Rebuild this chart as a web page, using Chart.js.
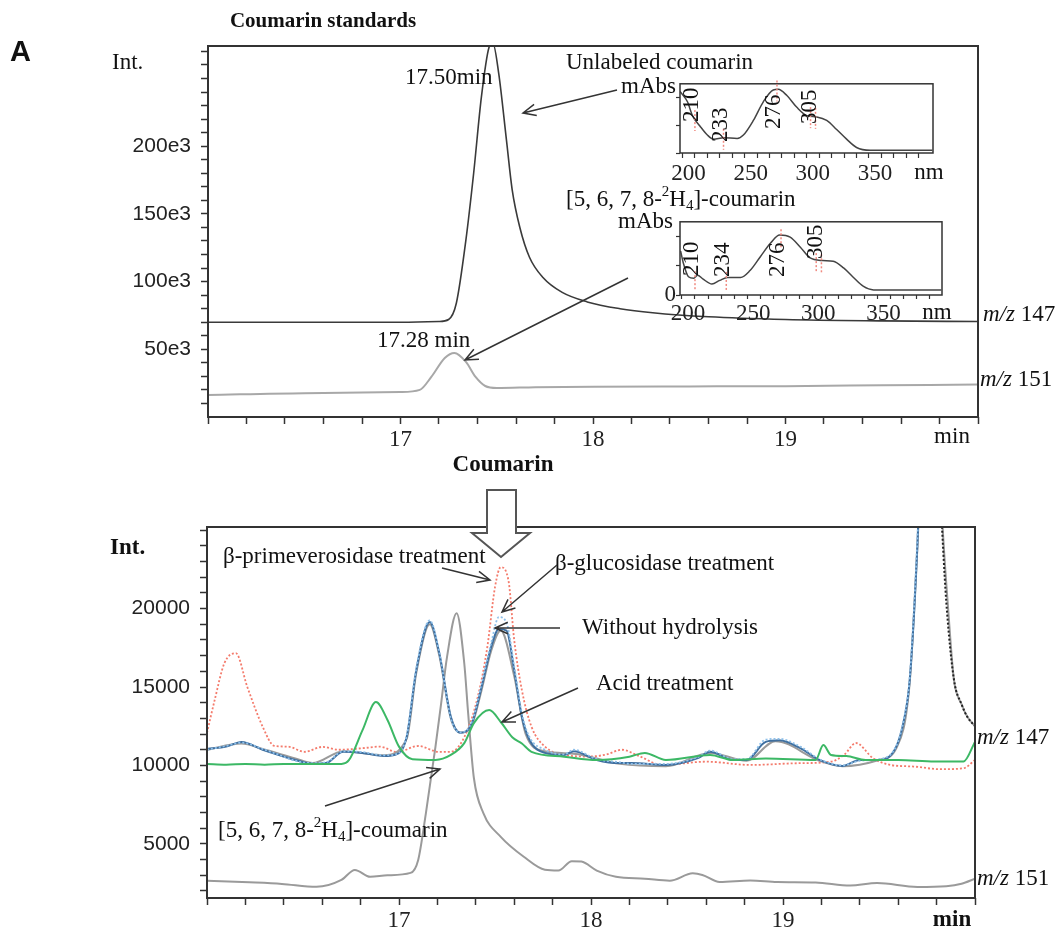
<!DOCTYPE html>
<html>
<head>
<meta charset="utf-8">
<script src="https://cdn.jsdelivr.net/npm/chart.js@4.4.0/dist/chart.umd.min.js"></script>
<style>
  html, body { margin: 0; padding: 0; background: #fff; }
  #wrap { position: relative; width: 1063px; height: 932px; overflow: hidden; background: #fff; }
  canvas { position: absolute; }
</style>
</head>
<body>
<div id="wrap">
  <canvas id="topChart" width="1063" height="460" style="left:0;top:0"></canvas>
  <canvas id="inset1" width="340" height="115" style="left:600px;top:70px"></canvas>
  <canvas id="inset2" width="350" height="115" style="left:600px;top:208px"></canvas>
  <canvas id="bottomChart" width="1063" height="487" style="left:0;top:445px"></canvas>
</div>
<script>
// ---- top panel: coumarin standards (intensity in e3) ----
const topTimes147 = [16.0, 17.0, 17.2, 17.25, 17.29, 17.34, 17.38, 17.42, 17.46, 17.48, 17.51, 17.55, 17.58, 17.62, 17.67, 17.74, 17.84, 17.97, 18.14, 18.31, 18.6, 19.0, 19.5, 20.0];
const topInt147   = [70, 70, 70.5, 72, 84, 131, 180, 236, 273, 276, 254, 205, 168, 140, 118, 103, 92, 85, 80, 77, 74, 72, 71, 70.5];
const topTimes151 = [16.0, 16.5, 17.0, 17.1, 17.16, 17.23, 17.28, 17.34, 17.39, 17.44, 17.5, 17.7, 18.0, 18.5, 19.0, 19.5, 20.0];
const topInt151   = [16.3, 17.6, 18.4, 20, 29.6, 43.6, 47.3, 40.7, 29.6, 22.9, 21.4, 22, 22.4, 22.6, 22.8, 23.4, 24];

// UV spectra insets (relative absorbance)
const nmUnlabeled  = [198, 204, 208, 214, 220, 225, 233, 244, 249, 257, 265, 273, 277, 284, 292, 300, 308, 316, 324, 332, 340, 351, 401];
const absUnlabeled = [89, 74, 54, 39, 26, 20, 22, 21, 26, 47, 74, 91, 92, 83, 66, 54, 52, 47, 34, 20, 8, 4, 4];
const peaksUnlabeled = [210, 233, 276, 305];
const markersUnlabeled = [210, 233, 276, 303, 307];

const nmLabeled  = [199, 201, 205, 209, 212, 216, 223, 229, 235, 245, 252, 260, 268, 275, 283, 291, 298, 308, 316, 324, 331, 339, 347, 399];
const absLabeled = [60, 44, 25, 23, 27, 22, 15, 20, 24, 24, 33, 52, 71, 82, 79, 65, 51, 47, 46, 37, 25, 12, 7, 7];
const peaksLabeled = [210, 234, 276, 305];
const markersLabeled = [210, 234, 276, 303, 307];

// ---- bottom panel: sample traces ----
const btRed = [16.0, 16.04, 16.09, 16.15, 16.21, 16.29, 16.35, 16.42, 16.51, 16.6, 16.69, 16.81, 16.9, 16.99, 17.1, 17.21, 17.27, 17.34, 17.41, 17.46, 17.5, 17.53, 17.57, 17.6, 17.64, 17.69, 17.76, 17.86, 17.99, 18.08, 18.16, 18.25, 18.37, 18.6, 18.83, 19.07, 19.25, 19.32, 19.38, 19.47, 19.56, 19.68, 19.82, 19.94, 20.0];
const bPrimeverosidase = [12080, 14170, 16500, 17160, 15000, 12470, 11250, 11200, 10870, 11180, 11000, 11100, 11200, 10850, 11240, 10860, 10870, 11800, 14350, 17550, 21370, 22640, 21800, 18000, 14800, 12470, 11200, 10670, 10570, 10700, 11000, 10600, 10030, 10240, 10030, 10140, 10240, 10700, 11430, 10450, 10030, 9930, 9760, 9820, 10350];

const btBlue = [16.0, 16.1, 16.18, 16.29, 16.37, 16.46, 16.55, 16.62, 16.71, 16.81, 16.92, 16.98, 17.04, 17.09, 17.16, 17.21, 17.27, 17.32, 17.38, 17.43, 17.48, 17.52, 17.56, 17.6, 17.64, 17.68, 17.76, 17.86, 17.91, 18.03, 18.15, 18.21, 18.39, 18.56, 18.62, 18.74, 18.81, 18.91, 18.98, 19.09, 19.19, 19.31, 19.4, 19.5, 19.59, 19.63, 19.66, 19.7, 19.73];
const bWithout = [11050, 11200, 11500, 11000, 10680, 10350, 10100, 10150, 10870, 10800, 10600, 10680, 11820, 16080, 19150, 17150, 13100, 12080, 12700, 15000, 17550, 18700, 18600, 16080, 13100, 11620, 10800, 10670, 10900, 10350, 10150, 10150, 10030, 10480, 10870, 10350, 10350, 11500, 11600, 11100, 10350, 9970, 10350, 10350, 11200, 12900, 15450, 24000, 34000];
const bGlucosidase = [11000, 11250, 11450, 11050, 10700, 10300, 10150, 10200, 10900, 10850, 10650, 10700, 11900, 16200, 19250, 17200, 13000, 12100, 12800, 15200, 17800, 19460, 19100, 16300, 13300, 11800, 11000, 10700, 11000, 10400, 10200, 10100, 10100, 10550, 10950, 10400, 10400, 11650, 11700, 11200, 10400, 10000, 10300, 10400, 11250, 13000, 15600, 24500, 34000];

const btGray147 = [16.0, 16.18, 16.29, 16.46, 16.55, 16.71, 16.92, 17.04, 17.09, 17.16, 17.21, 17.27, 17.32, 17.38, 17.43, 17.48, 17.53, 17.6, 17.66, 17.76, 17.91, 18.15, 18.39, 18.62, 18.81, 18.96, 19.19, 19.31, 19.5, 19.59, 19.66, 19.7, 19.74, 19.8, 19.83, 19.86, 19.89, 19.93, 19.96, 20.0];
const bGray147 = [11000, 11400, 11050, 10450, 10150, 10900, 10650, 11700, 15900, 19000, 17000, 13000, 12100, 12600, 14800, 17300, 18600, 15700, 12000, 10900, 10750, 10100, 9950, 10800, 10300, 11550, 10300, 9950, 10350, 11100, 15300, 24000, 34000, 34000, 25500, 20000, 15500, 13900, 13100, 12500];

const btBlack = [19.82, 19.85, 19.89, 19.93, 19.96, 20.0];
const bBlack  = [27000, 20500, 15500, 13900, 13100, 12500];

const btGreen = [16.0, 16.1, 16.2, 16.3, 16.4, 16.5, 16.6, 16.7, 16.74, 16.81, 16.88, 16.94, 17.0, 17.07, 17.19, 17.27, 17.34, 17.39, 17.47, 17.53, 17.59, 17.64, 17.69, 17.86, 18.03, 18.2, 18.28, 18.39, 18.62, 18.74, 18.91, 19.17, 19.21, 19.25, 19.33, 19.43, 19.6, 19.79, 19.94, 20.0];
const bAcid = [10100, 10050, 10100, 10050, 10100, 10100, 10100, 10100, 10350, 12250, 14040, 12900, 11200, 10400, 10350, 10670, 11420, 12700, 13530, 12770, 11800, 11400, 10870, 10560, 10350, 10560, 10800, 10350, 10670, 10350, 10450, 10350, 11300, 10670, 10600, 10350, 10350, 10250, 10250, 11500];

const bt151 = [16.0, 16.22, 16.39, 16.57, 16.7, 16.77, 16.85, 16.94, 17.06, 17.1, 17.14, 17.19, 17.22, 17.25, 17.3, 17.34, 17.36, 17.39, 17.44, 17.53, 17.65, 17.76, 17.83, 17.9, 17.95, 18.03, 18.13, 18.28, 18.41, 18.53, 18.58, 18.67, 18.83, 18.97, 19.17, 19.35, 19.49, 19.7, 19.85, 19.93, 20.0];
const bLabeled151 = [2650, 2550, 2450, 2260, 2700, 3340, 2900, 3000, 3150, 3980, 6950, 11200, 14000, 16900, 19700, 16500, 13350, 9200, 6950, 5450, 4180, 3350, 3300, 3900, 3870, 3300, 2900, 2780, 2650, 3120, 3020, 2570, 2670, 2570, 2540, 2350, 2500, 2250, 2300, 2460, 2780];

const timeLabels = [17, 18, 19];
const topIntLabels = [50, 100, 150, 200];
const bottomIntLabels = [5000, 10000, 15000, 20000];

const SERIF = '"Liberation Serif", "Times New Roman", serif';
const SANS = '"Liberation Sans", Arial, sans-serif';
const INK = '#222';

const pairs = (xs, ys) => xs.map((x, i) => ({ x: x, y: ys[i] }));

// tick values from a..b every step (integer arithmetic to dodge float drift)
function tickRange(a, b, step, scale) {
    const out = [];
    for (let k = Math.round(a / step); k * step <= b + 1e-9; k++) out.push({ value: Math.round(k * step * scale) / scale });
    return out;
}

function interp(xs, ys, x) {
    for (let i = 1; i < xs.length; i++) {
        if (x <= xs[i]) {
            const t = (x - xs[i - 1]) / (xs[i] - xs[i - 1]);
            return ys[i - 1] + t * (ys[i] - ys[i - 1]);
        }
    }
    return ys[ys.length - 1];
}

function txt(ctx, s, x, y, font, align) {
    ctx.font = font;
    ctx.textAlign = align || 'left';
    ctx.textBaseline = 'middle';
    ctx.fillText(s, x, y);
}

// text built of pieces: [string, font, dy]
function richText(ctx, parts, x, y) {
    ctx.textAlign = 'left';
    ctx.textBaseline = 'middle';
    parts.forEach(p => {
        ctx.font = p[1];
        ctx.fillText(p[0], x, y + (p[2] || 0));
        x += ctx.measureText(p[0]).width;
    });
}

function mz(ctx, num, x, y) {
    richText(ctx, [['m/z', 'italic 23px ' + SERIF], [' ' + num, '23px ' + SERIF]], x, y);
}

function deuterated(ctx, x, y) {
    richText(ctx, [
        ['[5, 6, 7, 8-', '23px ' + SERIF],
        ['2', '15px ' + SERIF, -8],
        ['H', '23px ' + SERIF],
        ['4', '15px ' + SERIF, 6],
        [']-coumarin', '23px ' + SERIF]
    ], x, y);
}

function arrow(ctx, x1, y1, x2, y2) {
    const ang = Math.atan2(y2 - y1, x2 - x1);
    const L = 14, spread = 0.42;
    ctx.beginPath();
    ctx.moveTo(x1, y1);
    ctx.lineTo(x2, y2);
    ctx.moveTo(x2 - L * Math.cos(ang - spread), y2 - L * Math.sin(ang - spread));
    ctx.lineTo(x2, y2);
    ctx.lineTo(x2 - L * Math.cos(ang + spread), y2 - L * Math.sin(ang + spread));
    ctx.stroke();
}

function frame(ctx, a, w) {
    ctx.save();
    ctx.strokeStyle = '#333';
    ctx.lineWidth = w || 2;
    ctx.strokeRect(a.left, a.top, a.right - a.left, a.bottom - a.top);
    ctx.restore();
}

function timeAxis(heightPx) {
    return {
        type: 'linear', min: 16, max: 20,
        afterFit: s => { s.height = heightPx; },
        afterBuildTicks: s => { s.ticks = tickRange(16, 20, 0.2, 10); },
        border: { display: false },
        grid: { drawOnChartArea: false, drawTicks: true, tickLength: 7, tickColor: '#333', tickWidth: 1.5 },
        ticks: {
            autoSkip: false, maxRotation: 0, padding: 2,
            color: INK, font: { family: SERIF, size: 23 },
            callback: v => {
                const r = Math.round(v);
                return (Math.abs(v - r) < 1e-6 && timeLabels.includes(r)) ? String(r) : '';
            }
        }
    };
}

// ---------- top chart ----------
const topDecor = {
    id: 'topDecor',
    afterDraw(chart) {
        const { ctx, chartArea: a } = chart;
        frame(ctx, a);
        ctx.save();
        ctx.fillStyle = '#111';
        txt(ctx, 'A', 10, 53, 'bold 29px ' + SANS);
        txt(ctx, 'Coumarin standards', 323, 22, 'bold 21px ' + SERIF, 'center');
        txt(ctx, 'Int.', 112, 63, '23px ' + SERIF);
        txt(ctx, '17.50min', 405, 78, '23px ' + SERIF);
        txt(ctx, '17.28 min', 377, 341, '23px ' + SERIF);
        txt(ctx, 'Unlabeled coumarin', 566, 63, '23px ' + SERIF);
        txt(ctx, 'mAbs', 676, 87, '23px ' + SERIF, 'right');
        deuterated(ctx, 566, 200);
        txt(ctx, 'mAbs', 673, 222, '23px ' + SERIF, 'right');
        txt(ctx, 'nm', 929, 173, '23px ' + SERIF, 'center');
        txt(ctx, 'nm', 937, 313, '23px ' + SERIF, 'center');
        mz(ctx, '147', 983, 315);
        mz(ctx, '151', 980, 380);
        txt(ctx, 'min', 952, 437, '23px ' + SERIF, 'center');
        ctx.strokeStyle = '#333';
        ctx.lineWidth = 1.5;
        arrow(ctx, 617, 90, 523, 113);
        arrow(ctx, 628, 278, 465, 360);
        ctx.restore();
    }
};

new Chart(document.getElementById('topChart'), {
    type: 'line',
    data: {
        datasets: [
            { data: pairs(topTimes147, topInt147), borderColor: '#3a3a3a', borderWidth: 1.6 },
            { data: pairs(topTimes151, topInt151), borderColor: '#a8a8a8', borderWidth: 2 }
        ]
    },
    options: {
        responsive: false, animation: false,
        layout: { padding: { top: 46, right: 85, left: 0, bottom: 0 } },
        elements: { point: { radius: 0 }, line: { cubicInterpolationMode: 'monotone' } },
        plugins: { legend: { display: false }, tooltip: { enabled: false } },
        scales: {
            x: timeAxis(43),
            y: {
                min: 0, max: 274,
                afterFit: s => { s.width = 208; },
                afterBuildTicks: s => { s.ticks = tickRange(10, 270, 10, 1); },
                border: { display: false },
                grid: { drawOnChartArea: false, drawTicks: true, tickLength: 7, tickColor: '#333', tickWidth: 1.5 },
                ticks: {
                    autoSkip: false, padding: 10,
                    color: INK, font: { family: SANS, size: 21 },
                    callback: v => topIntLabels.includes(Math.round(v)) ? Math.round(v) + 'e3' : ''
                }
            }
        }
    },
    plugins: [topDecor]
});

// ---------- UV insets ----------
function makeInset(id, nm, abs, peaks, markers, opt) {
    const decor = {
        id: 'insetDecor',
        afterDraw(chart) {
            const { ctx, chartArea: a, scales } = chart;
            frame(ctx, a, 1.5);
            ctx.save();
            ctx.strokeStyle = '#f08a80';
            ctx.lineWidth = 1.5;
            ctx.setLineDash([2, 2]);
            markers.forEach(m => {
                const x = scales.x.getPixelForValue(m);
                const y = scales.y.getPixelForValue(interp(nm, abs, m));
                ctx.beginPath();
                ctx.moveTo(x, y - opt.markUp);
                ctx.lineTo(x, y + opt.markDown);
                ctx.stroke();
            });
            ctx.setLineDash([]);
            ctx.fillStyle = '#111';
            ctx.font = '23px ' + SERIF;
            ctx.textAlign = 'center';
            ctx.textBaseline = 'middle';
            peaks.forEach((p, i) => {
                ctx.save();
                ctx.translate(scales.x.getPixelForValue(p) - 3, a.top + opt.labelY[i]);
                ctx.rotate(-Math.PI / 2);
                ctx.fillText(String(p), 0, 0);
                ctx.restore();
            });
            ctx.restore();
        }
    };
    return new Chart(document.getElementById(id), {
        type: 'line',
        data: { datasets: [{ data: pairs(nm, abs), borderColor: '#444', borderWidth: 1.5 }] },
        options: {
            responsive: false, animation: false,
            layout: { padding: { top: 7, right: opt.padRight, left: 0, bottom: 0 } },
            elements: { point: { radius: 0 }, line: { cubicInterpolationMode: 'monotone' } },
            plugins: { legend: { display: false }, tooltip: { enabled: false } },
            scales: {
                x: {
                    type: 'linear', min: opt.min, max: opt.max,
                    afterFit: s => { s.height = opt.xHeight; },
                    afterBuildTicks: s => { s.ticks = tickRange(200, 390, 10, 1); },
                    border: { display: false },
                    grid: { drawOnChartArea: false, tickLength: opt.tickLen, tickColor: '#333', tickWidth: 1.2 },
                    ticks: {
                        autoSkip: false, maxRotation: 0,
                        padding: opt.tickPad, labelOffset: 6,
                        color: INK, font: { family: SERIF, size: 23 },
                        callback: v => (v % 50 === 0 && v >= 200 && v <= 350) ? String(v) : ''
                    }
                },
                y: {
                    min: 0, max: 100,
                    afterFit: s => { s.width = 80; },
                    afterBuildTicks: s => { s.ticks = tickRange(0, 80, 20, 1); },
                    border: { display: false },
                    grid: { drawOnChartArea: false, tickLength: 4, tickColor: '#333', tickWidth: 1.2 },
                    ticks: {
                        padding: 0,
                        color: INK, font: { family: SERIF, size: 23 },
                        callback: v => (opt.showZero && v === 0) ? '0' : ''
                    }
                }
            }
        },
        plugins: [decor]
    });
}

makeInset('inset1', nmUnlabeled, absUnlabeled, peaksUnlabeled, markersUnlabeled, {
    min: 198, max: 401.5, padRight: 7, xHeight: 32, tickLen: 5, tickPad: 2,
    markUp: 9, markDown: 12, labelY: [21, 41, 28, 23], showZero: false
});
makeInset('inset2', nmLabeled, absLabeled, peaksLabeled, markersLabeled, {
    min: 198.5, max: 399.5, padRight: 8, xHeight: 28, tickLen: 4, tickPad: 1,
    markUp: 6, markDown: 13, labelY: [37, 38, 38, 20], showZero: true
});

// ---------- bottom chart ----------
const OFF = 445; // canvas top on the page
const bottomDecor = {
    id: 'bottomDecor',
    afterDraw(chart) {
        const { ctx, chartArea: a } = chart;
        frame(ctx, a);
        ctx.save();
        ctx.translate(0, -OFF);
        ctx.fillStyle = '#111';
        txt(ctx, 'Coumarin', 503, 465, 'bold 23px ' + SERIF, 'center');
        txt(ctx, 'Int.', 110, 548, 'bold 23px ' + SERIF);
        txt(ctx, 'min', 952, 920, 'bold 23px ' + SERIF, 'center');
        txt(ctx, '\u03b2-primeverosidase treatment', 223, 557, '23px ' + SERIF);
        txt(ctx, '\u03b2-glucosidase treatment', 555, 564, '23px ' + SERIF);
        txt(ctx, 'Without hydrolysis', 582, 628, '23px ' + SERIF);
        txt(ctx, 'Acid treatment', 596, 684, '23px ' + SERIF);
        deuterated(ctx, 218, 831);
        mz(ctx, '147', 977, 738);
        mz(ctx, '151', 977, 879);

        ctx.strokeStyle = '#333';
        ctx.lineWidth = 1.5;
        arrow(ctx, 442, 568, 490, 580);
        arrow(ctx, 557, 565, 502, 612);
        arrow(ctx, 560, 628, 495, 628);
        arrow(ctx, 578, 688, 502, 722);
        arrow(ctx, 325, 806, 440, 769);

        // hollow arrow marking coumarin
        ctx.beginPath();
        ctx.moveTo(487, 490);
        ctx.lineTo(516, 490);
        ctx.lineTo(516, 533);
        ctx.lineTo(530, 533);
        ctx.lineTo(501, 557);
        ctx.lineTo(472, 533);
        ctx.lineTo(487, 533);
        ctx.closePath();
        ctx.fillStyle = '#fff';
        ctx.fill();
        ctx.strokeStyle = '#555';
        ctx.lineWidth = 2;
        ctx.stroke();
        ctx.restore();
    }
};

new Chart(document.getElementById('bottomChart'), {
    type: 'line',
    data: {
        datasets: [
            { data: pairs(btGreen, bAcid), borderColor: '#3cb865', borderWidth: 2 },
            { data: pairs(btBlack, bBlack), borderColor: '#222', borderWidth: 2, borderDash: [2, 2] },
            { data: pairs(btBlue, bGlucosidase), borderColor: '#8ec0ea', borderWidth: 1.8, borderDash: [2, 2] },
            { data: pairs(btBlue, bWithout), borderColor: '#3f6f9f', borderWidth: 2 },
            { data: pairs(btGray147, bGray147), borderColor: '#9a9a9a', borderWidth: 2 },
            { data: pairs(btRed, bPrimeverosidase), borderColor: '#f47b6c', borderWidth: 1.8, borderDash: [2, 2] },
            { data: pairs(bt151, bLabeled151), borderColor: '#9a9a9a', borderWidth: 2 }
        ]
    },
    options: {
        responsive: false, animation: false,
        layout: { padding: { top: 82, right: 88, left: 0, bottom: 0 } },
        elements: { point: { radius: 0 }, line: { cubicInterpolationMode: 'monotone' } },
        plugins: { legend: { display: false }, tooltip: { enabled: false } },
        scales: {
            x: timeAxis(34),
            y: {
                min: 1550, max: 25200,
                afterFit: s => { s.width = 207; },
                afterBuildTicks: s => { s.ticks = tickRange(2000, 25000, 1000, 1); },
                border: { display: false },
                grid: { drawOnChartArea: false, drawTicks: true, tickLength: 7, tickColor: '#333', tickWidth: 1.5 },
                ticks: {
                    autoSkip: false, padding: 10,
                    color: INK, font: { family: SANS, size: 21 },
                    callback: v => bottomIntLabels.includes(Math.round(v)) ? String(Math.round(v)) : ''
                }
            }
        }
    },
    plugins: [bottomDecor]
});
</script>
</body>
</html>
